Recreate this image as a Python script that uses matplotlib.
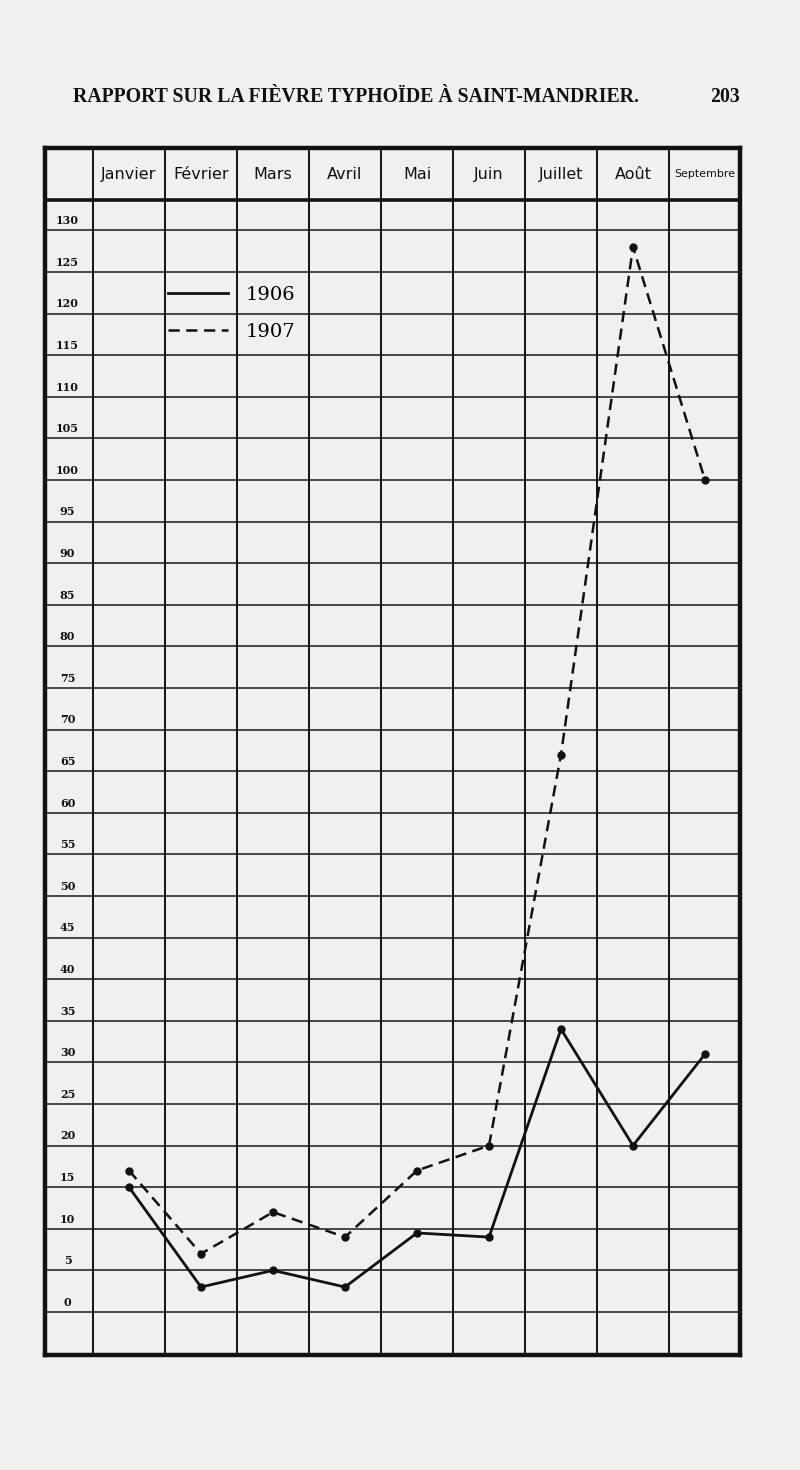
import matplotlib
matplotlib.use("Agg")
import matplotlib.pyplot as plt
from matplotlib.lines import Line2D

# ---- data ----
months = ['Janvier', 'Février', 'Mars', 'Avril', 'Mai', 'Juin',
          'Juillet', 'Août', 'Septembre']
cases_1906 = [15, 3, 5, 3, 9.5, 9, 34, 20, 31]
cases_1907 = [17, 7, 12, 9, 17, 20, 67, 128, 100]
y_ticks = [0, 5, 10, 15, 20, 25, 30, 35, 40, 45, 50, 55, 60, 65,
           70, 75, 80, 85, 90, 95, 100, 105, 110, 115, 120, 125, 130]
series_labels = ['1906', '1907']
title_text = "RAPPORT SUR LA FIÈVRE TYPHOÏDE À SAINT-MANDRIER."
page_number = "203"

BG = '#f0f0ee'
INK = '#111111'

fig = plt.figure(figsize=(8, 14.7), dpi=100, facecolor=BG)
ax = fig.add_axes([45 / 800, 1 - 1355 / 1470, 695 / 800, 1207 / 1470])
ax.set_facecolor(BG)

label_w = 48 / 72
x_left = -0.5 - label_w
x_right = 8.5 - 0.014
y_bot, y_top = -5.17, 139.9
header_y = 133.6
ax.set_xlim(x_left, x_right)
ax.set_ylim(y_bot, y_top)
ax.set_xticks([])
ax.set_yticks([])
for s in ax.spines.values():
    s.set_linewidth(3.2)
    s.set_color(INK)

# horizontal grid lines + value labels in the first column
for v in y_ticks:
    ax.axhline(v, color='#2a2a2a', lw=1.2, zorder=1)
    ax.text(x_left + label_w / 2 - 0.02, v + 0.5, str(v), ha='center', va='bottom',
            fontsize=8, fontweight='bold', family='DejaVu Serif', color=INK)

# header separator
ax.axhline(header_y, color=INK, lw=2.6, zorder=2)

# vertical column lines
for i in range(len(months)):
    ax.axvline(i - 0.5, color=INK, lw=1.4, zorder=1)

# month headers
head_mid = (header_y + y_top) / 2
for i, m in enumerate(months):
    fs = 11.5 if m != 'Septembre' else 7.9
    ax.text(i, head_mid, m, ha='center', va='center', fontsize=fs,
            family='DejaVu Sans', color=INK)

# data lines
x = list(range(len(months)))
ax.plot(x, cases_1906, color=INK, lw=2.0, marker='o', ms=5, zorder=4,
        solid_joinstyle='round')
ax.plot(x, cases_1907, color=INK, lw=1.8, marker='o', ms=5, zorder=4,
        dashes=(4.5, 2.6))

# legend
handles = [Line2D([], [], color=INK, lw=2.0),
           Line2D([], [], color=INK, lw=1.8, dashes=(4.5, 2.6))]
leg = ax.legend(handles, series_labels, loc='upper left',
                bbox_to_anchor=(0.54, 123.3), bbox_transform=ax.transData,
                frameon=False, borderpad=0, borderaxespad=0,
                handlelength=3.1, handletextpad=0.9, labelspacing=0.95,
                prop={'family': 'DejaVu Serif', 'size': 14})

# page header
fig.text(73 / 800, 1 - 97 / 1470, title_text, ha='left', va='center',
         fontsize=14.2, fontweight='bold', family='Liberation Serif', color=INK)
fig.text(740 / 800, 1 - 97 / 1470, page_number, ha='right', va='center',
         fontsize=14.2, fontweight='bold', family='Liberation Serif', color=INK)

fig.savefig('out.png', dpi=100, facecolor=BG)
